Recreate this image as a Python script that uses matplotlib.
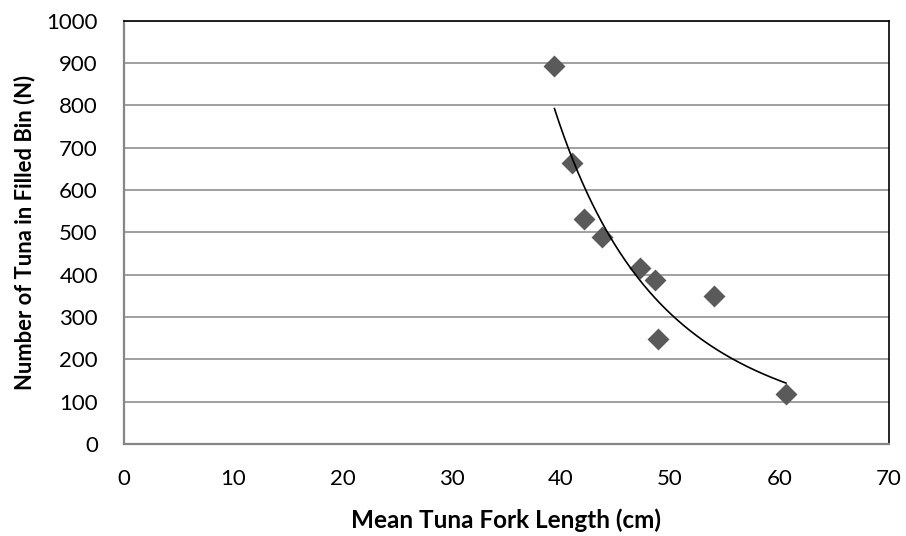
import numpy as np
import matplotlib
matplotlib.use("Agg")
import matplotlib.pyplot as plt

plt.rcParams['font.family'] = ['Lato', 'DejaVu Sans']

# 数据
fork_length = [39.4, 41.0, 42.1, 43.8, 47.2, 48.6, 54.0, 48.9, 60.6]
tuna_count = [893, 663, 531, 490, 416, 387, 350, 248, 117]

x_ticks = [0, 10, 20, 30, 40, 50, 60, 70]
y_ticks = [0, 100, 200, 300, 400, 500, 600, 700, 800, 900, 1000]

# 幂函数趋势线 y = a * x^b
b, log_a = np.polyfit(np.log(fork_length), np.log(tuna_count), 1)
x_fit = np.linspace(min(fork_length), max(fork_length), 200)
y_fit = np.exp(log_a) * x_fit ** b

fig = plt.figure(figsize=(9.06, 5.36), dpi=100)
ax = fig.add_axes([0.1372, 0.1716, 0.8435, 0.7898])

ax.set_xlim(0, 70)
ax.set_ylim(0, 1000)
ax.set_xticks(x_ticks)
ax.set_yticks(y_ticks)

ax.grid(axis='y', color='#868686', linewidth=1.1)
ax.set_axisbelow(True)

ax.scatter(fork_length, tuna_count, marker='D', s=125, color='#5a5a5a', zorder=3, linewidths=0)
ax.plot(x_fit, y_fit, color='black', linewidth=1.2, zorder=4)

for side in ['top', 'right']:
    ax.spines[side].set_color('black')
    ax.spines[side].set_linewidth(1.2)
for side in ['left', 'bottom']:
    ax.spines[side].set_color('#868686')
    ax.spines[side].set_linewidth(1.6)

ax.tick_params(axis='x', length=0, pad=18, labelsize=16)
ax.tick_params(axis='y', length=0, pad=19, labelsize=16)

ax.set_xlabel("Mean Tuna Fork Length (cm)", fontsize=17.5, fontweight='bold', va='center')
ax.set_ylabel("Number of Tuna in Filled Bin (N)", fontsize=15.8, fontweight='bold', va='center')
ax.xaxis.set_label_coords(0.5, -0.18)
ax.yaxis.set_label_coords(-0.13, 0.5)

fig.savefig("out.png", dpi=100)
